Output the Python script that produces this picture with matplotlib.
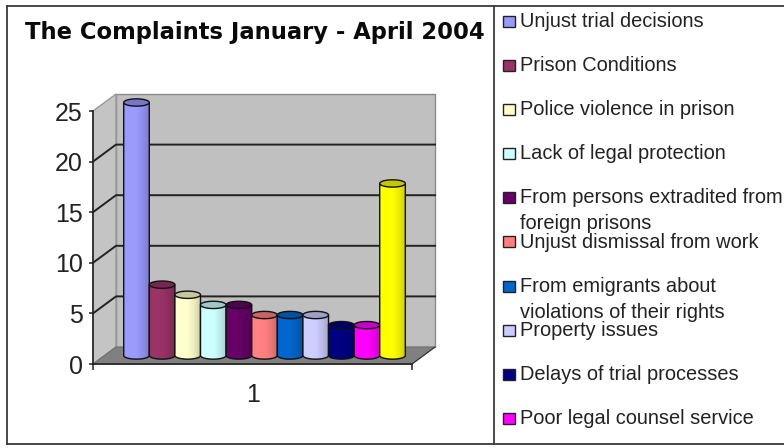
import numpy as np
import matplotlib
matplotlib.use("Agg")
import matplotlib.pyplot as plt
from matplotlib.colors import to_rgb
from matplotlib.lines import Line2D
from matplotlib.patches import PathPatch, Polygon, Rectangle
from matplotlib.path import Path

plt.rcParams['font.family'] = ['Liberation Sans', 'DejaVu Sans']

# data
title = "The Complaints January - April 2004"
values = [25, 7, 6, 5, 5, 4, 4, 4, 3, 3, 17]
colors = ['#9999FF', '#993366', '#FFFFCC', '#CCFFFF', '#660066', '#FF8080',
          '#0066CC', '#CCCCFF', '#000080', '#FF00FF', '#FFFF00']
labels = ['Unjust trial decisions', 'Prison Conditions', 'Police violence in prison',
          'Lack of legal protection', 'From persons extradited from\nforeign prisons',
          'Unjust dismissal from work', 'From emigrants about\nviolations of their rights',
          'Property issues', 'Delays of trial processes', 'Poor legal counsel service']
y_ticks = [0, 5, 10, 15, 20, 25]
x_label = '1'

W, H = 784, 448
fig = plt.figure(figsize=(W / 100, H / 100), dpi=100, facecolor='white')
# axes go a bit past 25 so the depth offset of the tallest bar is still inside them
y_max = 27
ax = fig.add_axes([93 / W, (H - 364) / H, (412 - 93) / W, y_max * 10.12 / H])
ax.patch.set_visible(False)

xl, xr = -1.25, 11.21
ax.set_xlim(xl, xr)
ax.set_ylim(0, y_max)

# depth of the fake 3d box in data units
dx = 23 / 25.6
dy = 17 / 10.12

# walls and floor
wall = '#C0C0C0'
ax.add_patch(Polygon([(xl + dx, dy), (xr + dx, dy), (xr + dx, 25 + dy), (xl + dx, 25 + dy)],
                     fc=wall, ec='#8A8A8A', lw=1, clip_on=False, zorder=1))
ax.add_patch(Polygon([(xl, 0), (xl + dx, dy), (xl + dx, 25 + dy), (xl, 25)],
                     fc='#C4C4C4', ec='#9A9A9A', lw=1, clip_on=False, zorder=1))
ax.add_patch(Polygon([(xl, 0), (xr, 0), (xr + dx, dy), (xl + dx, dy)],
                     fc='#808080', ec='#707070', lw=0.8, clip_on=False, zorder=1.5))

for v in y_ticks[1:-1]:
    ax.plot([xl, xl + dx, xr + dx], [v, v + dy, v + dy], color='#222222', lw=1.4,
            clip_on=False, zorder=1.2)
ax.plot([xr, xr + dx], [0, dy], color='#333333', lw=0.8, clip_on=False, zorder=1.6)

# bars, drawn left to right so each one overlaps the last
bar_w = 0.5
cap_h = 0.36
theta = np.linspace(0, np.pi, 40)
grad = np.linspace(0, 1, 64)
for i, v in enumerate(values):
    cx = i + dx * 0.5
    base = dy * 0.5
    top = v + dy * 0.5
    rgb = np.array(to_rgb(colors[i]))
    shade = np.array([1.0, 1.02, 1.0, 0.92, 0.8])
    stops = np.interp(grad, [0, 0.25, 0.5, 0.75, 1], shade)
    img = np.clip(rgb[None, :] * stops[:, None], 0, 1)[None, :, :]
    im = ax.imshow(img, extent=[cx - bar_w, cx + bar_w, base - cap_h, top], aspect='auto',
                   zorder=2 + i * 0.1, clip_on=True)

    # body outline with a rounded foot
    xs = np.concatenate([[cx - bar_w], cx - bar_w * np.cos(theta), [cx + bar_w]])
    ys = np.concatenate([[top], base - cap_h * np.sin(theta), [top]])
    body = PathPatch(Path(np.column_stack([xs, ys]), closed=False), fc='none', ec='#111111',
                     lw=1.0, clip_on=False, zorder=2.01 + i * 0.1)
    ax.add_patch(body)
    im.set_clip_path(Polygon(np.column_stack([xs, ys]), transform=ax.transData))

    # top cap
    t = np.linspace(0, 2 * np.pi, 80)
    cap = Polygon(np.column_stack([cx + bar_w * np.cos(t), top + cap_h * np.sin(t)]),
                  fc=rgb * 0.78, ec='#111111', lw=1.0, clip_on=False, zorder=2.02 + i * 0.1)
    ax.add_patch(cap)

ax.set_xlim(xl, xr)
ax.set_ylim(0, y_max)

# axes
for s in ['top', 'right']:
    ax.spines[s].set_visible(False)
for s in ['left', 'bottom']:
    ax.spines[s].set_color('#222222')
    ax.spines[s].set_linewidth(1.2)
    ax.spines[s].set_zorder(1.7)
ax.spines['left'].set_bounds(0, 25)
ax.set_yticks(y_ticks)
ax.tick_params(axis='y', length=3, width=1.1, color='#222222', labelsize=18,
               labelcolor='#222222', pad=4.5)
ax.set_xticks([xl, xr])
ax.set_xticklabels(['', ''])
ax.tick_params(axis='x', which='major', length=4, width=1.1, color='#222222')
ax.set_xticks([5], [x_label], minor=True)
ax.tick_params(axis='x', which='minor', length=0, labelsize=18, labelcolor='#222222', pad=13.5)

# frame around chart and legend
for xs, ys in [([7, 7], [6, 444]), ([494, 494], [6, 444]), ([7, 784], [6, 6]), ([7, 784], [444, 444])]:
    fig.add_artist(Line2D(np.array(xs) / W, 1 - np.array(ys) / H, color='#3A3A3A', lw=1.3))

fig.text(254.5 / W, 1 - 32 / H, title, fontsize=16.3, fontweight='bold', ha='center',
         va='center', color='#0A0A0A', family='DejaVu Sans')

# legend, fixed row spacing so the wrapped labels run into the next row as in the original
row_y = 21.5
row_step = 44.1
for i, label in enumerate(labels):
    y = row_y + i * row_step
    fig.add_artist(Rectangle((503 / W, 1 - (y + 5.5) / H), 11.5 / W, 11 / H, fc=colors[i],
                             ec='#222222', lw=1.0, transform=fig.transFigure))
    lines = label.split('\n')
    fig.text(520.5 / W, 1 - y / H, lines[0], fontsize=14.4, va='center', ha='left', color='#222222')
    if len(lines) > 1:
        fig.text(520.5 / W, 1 - (y + 26) / H, lines[1], fontsize=14.4, va='center', ha='left',
                 color='#222222')

fig.savefig('out.png', dpi=100)
